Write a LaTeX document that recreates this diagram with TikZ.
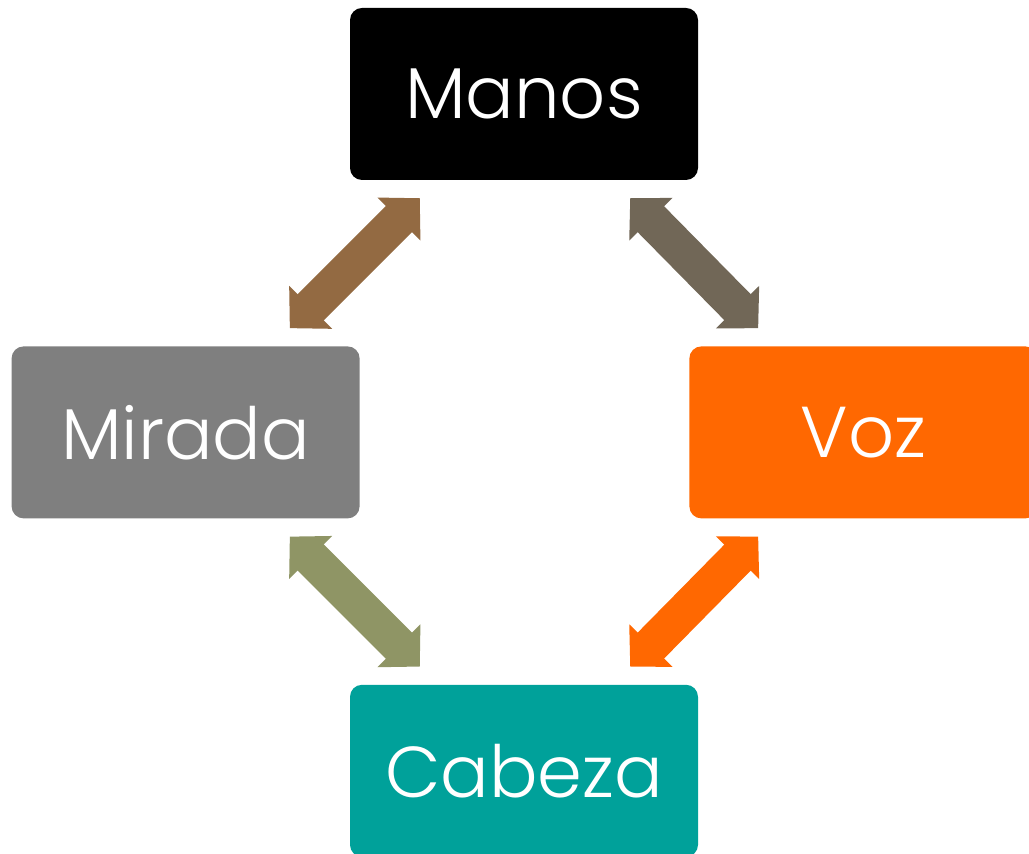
\documentclass[tikz,border=0pt]{standalone}
\usepackage{fontspec}
\setmainfont{Poppins Light}
\usepackage{tikz}
\usetikzlibrary{arrows.meta,positioning}
\definecolor{grey}{RGB}{127, 127, 127}
\definecolor{orange}{RGB}{255, 104, 1}
\definecolor{teal}{RGB}{0, 161, 154}
\definecolor{brown}{RGB}{147, 106, 66}
\definecolor{taupe}{RGB}{113, 103, 87}
\definecolor{olive}{RGB}{143, 149, 101}
\tikzstyle{box} = [rectangle, rounded corners=12pt, minimum width=348pt, minimum height=172pt, inner sep=0pt, text=white, font=\fontsize{72}{80}\selectfont]
\tikzstyle{link} = [line width=37pt, {Triangle[width=59pt,length=29.5pt]}-{Triangle[width=59pt,length=29.5pt]}]

\begin{document}
\begin{tikzpicture}[x=1pt, y=1pt]
\useasboundingbox (0,0) rectangle (1029,854);

% boxes =============================
\node[box, fill=black] (manos) at (524,760) {Manos};
\node[box, fill=grey, below left=166pt and -10pt of manos] (mirada) {Mirada};
\node[box, fill=orange, below right=166pt and -9pt of manos] (voz) {Voz};
\node[box, fill=teal, below right=166pt and -10pt of mirada] (cabeza) {Cabeza};

% double arrows
\draw[link, brown] ([shift={(70,-18)}]manos.south west) -- ([shift={(-70,18)}]mirada.north east);
\draw[link, taupe] ([shift={(-68,-18)}]manos.south east) -- ([shift={(69,18)}]voz.north west);
\draw[link, olive] ([shift={(-70,-18)}]mirada.south east) -- ([shift={(70,18)}]cabeza.north west);
\draw[link, orange] ([shift={(69,-18)}]voz.south west) -- ([shift={(-68,18)}]cabeza.north east);

\end{tikzpicture}
\end{document}
